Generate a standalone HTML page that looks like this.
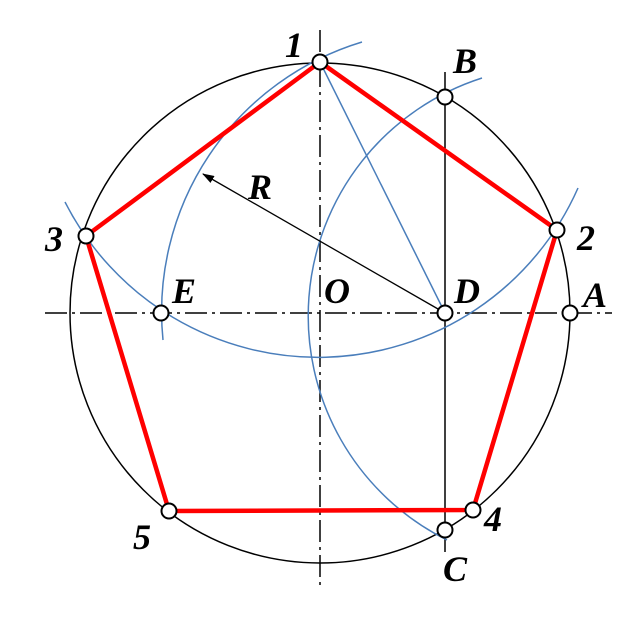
<!DOCTYPE html>
<html><head><style>body{margin:0;background:#fff}</style></head><body>
<svg width="638" height="614" viewBox="0 0 638 614" xmlns="http://www.w3.org/2000/svg">
<defs><marker id="ar" markerWidth="12" markerHeight="8" refX="11" refY="4" orient="auto" markerUnits="userSpaceOnUse"><path d="M0,0 L12,4 L0,8 Z" fill="#000"/></marker></defs>
<circle cx="320" cy="313" r="250" fill="none" stroke="#000" stroke-width="1.5"/>
<g stroke="#000" stroke-width="1.5" stroke-dasharray="22,5,3,5" fill="none">
<line x1="45" y1="313" x2="612" y2="313"/>
<line x1="320" y1="30" x2="320" y2="585"/>
</g>
<line x1="445" y1="72" x2="445" y2="552" stroke="#000" stroke-width="1.5"/>
<g fill="none" stroke="#4a7ebb" stroke-width="1.5">
<path d="M362,42 A282,282 0 0 0 163,340"/>
<path d="M65,202 A284,284 0 0 0 578,188"/>
<path d="M482,78 A250,250 0 0 0 447,540"/>
<line x1="320" y1="62" x2="445" y2="313"/>
</g>
<line x1="445" y1="313" x2="203" y2="174" stroke="#000" stroke-width="1.3" marker-end="url(#ar)"/>
<polygon points="320,62 557,230 473,510 169,511 86,236" fill="none" stroke="#f00" stroke-width="4.5" stroke-linejoin="round"/>
<g fill="#fff" stroke="#000" stroke-width="2">
<circle cx="320" cy="62" r="7.5"/><circle cx="557" cy="230" r="7.5"/><circle cx="86" cy="236" r="7.5"/>
<circle cx="473" cy="510" r="7.5"/><circle cx="169" cy="511" r="7.5"/><circle cx="445" cy="97" r="7.5"/>
<circle cx="445" cy="313" r="7.5"/><circle cx="161" cy="313" r="7.5"/><circle cx="570" cy="313" r="7.5"/>
<circle cx="445" cy="530" r="7.5"/>
</g>
<g font-family="Liberation Serif, serif" font-weight="bold" font-style="italic" font-size="36" fill="#000">
<text x="285" y="57">1</text>
<text x="577" y="250">2</text>
<text x="45" y="251">3</text>
<text x="484" y="531">4</text>
<text x="133" y="549">5</text>
<text x="453" y="73">B</text>
<text x="454" y="303">D</text>
<text x="172" y="303">E</text>
<text x="324" y="303">O</text>
<text x="583" y="307">A</text>
<text x="443" y="581">C</text>
<text x="248" y="199">R</text>
</g>
</svg>
</body></html>
